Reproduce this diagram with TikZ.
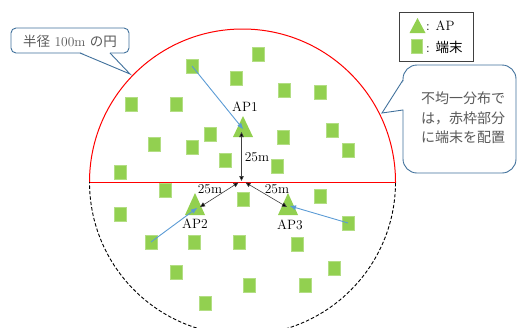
\documentclass[tikz,border=0pt]{standalone}
\usepackage{fontspec}
\newfontfamily\cjk{Noto Sans CJK JP}
\usetikzlibrary{arrows.meta}
\definecolor{tgreen}{HTML}{92D050}
\definecolor{cblue}{HTML}{41719C}
\definecolor{ablue}{HTML}{5B9BD5}
\definecolor{tgray}{HTML}{595959}
\tikzset{
  term/.style={rectangle, fill=tgreen, draw=tgreen!70!white, line width=0.4pt,
    minimum width=12pt, minimum height=14pt, inner sep=0pt},
  aptri/.style={fill=tgreen},
  dimarrow/.style={draw=black!75, line width=0.6pt,
    {Triangle[length=5pt,width=4.5pt,fill=black]}-{Triangle[length=5pt,width=4.5pt,fill=black]}},
  link/.style={draw=ablue, line width=0.9pt, -{Triangle[length=6pt,width=4.5pt]}},
  lbl/.style={font=\fontsize{13.5}{15}\selectfont, inner sep=0pt},
  calloutbox/.style={draw=cblue, line width=0.9pt, fill=white},
}
\begin{document}
\begin{tikzpicture}[x=1pt,y=-1pt]
\useasboundingbox (0,0) rectangle (518,327);
\clip (0,0) rectangle (518,327);
\coordinate (c) at (242.5,182);
% circle: red upper half, dashed lower half
\begin{scope}
  \clip (0,0) rectangle (518,182);
  \draw[red, line width=1pt] (c) circle[radius=153pt];
\end{scope}
\begin{scope}
  \clip (0,182) rectangle (518,340);
  \draw[black, line width=0.9pt, dash pattern=on 3.5pt off 2pt] (c) circle[radius=153pt];
\end{scope}
\coordinate (hl) at (89.5,182);
\coordinate (hr) at (395.5,182);
\draw[red, line width=1pt] (hl) -- (hr);

% terminals
\node[term] (t1) at (192,66) {};
\node[term] (t2) at (236,78) {};
\node[term] (t3) at (258,54) {};
\node[term] (t4) at (131,104) {};
\node[term] (t5) at (176,104) {};
\node[term] (t6) at (284,90) {};
\node[term] (t7) at (320,92) {};
\node[term] (t8) at (154,144) {};
\node[term] (t9) at (192,147) {};
\node[term] (t10) at (210,134) {};
\node[term] (t11) at (225,160) {};
\node[term] (t12) at (283,137) {};
\node[term] (t13) at (332,130) {};
\node[term] (t14) at (348,150) {};
\node[term] (t15) at (277,166) {};
\node[term] (t16) at (120,172) {};
\node[term] (t17) at (165,190) {};
\node[term] (t18) at (120,214) {};
\node[term] (t19) at (151,242) {};
\node[term] (t20) at (194,242) {};
\node[term] (t21) at (239,242) {};
\node[term] (t22) at (176,272) {};
\node[term] (t23) at (249,285) {};
\node[term] (t24) at (205,303) {};
\node[term] (t25) at (243,199) {};
\node[term] (t26) at (320,196) {};
\node[term] (t27) at (348,223) {};
\node[term] (t28) at (297,244) {};
\node[term] (t29) at (334,268) {};
\node[term] (t30) at (305,285) {};

% access points
\fill[aptri] (243,116) -- (253,137) -- (233,137) -- cycle;
\fill[aptri] (195,193) -- (205,215) -- (185,215) -- cycle;
\fill[aptri] (288,193) -- (298,215) -- (278,215) -- cycle;
\node[lbl] (l1) at (245,107) {AP1};
\node[lbl] (l2) at (195,224) {AP2};
\node[lbl] (l3) at (290,225) {AP3};

% distance arrows
\coordinate (j1) at (241.5,181);
\coordinate (j2) at (238.5,182.5);
\coordinate (j3) at (245.5,182.5);
\coordinate (a1) at (241.5,132);
\coordinate (a2) at (200,207);
\coordinate (a3) at (287,207);
\draw[dimarrow] (a1) -- (j1);
\draw[dimarrow] (j2) -- (a2);
\draw[dimarrow] (j3) -- (a3);
\node[lbl] (d1) at (257,157) {25m};
\node[lbl] (d2) at (210,189) {25m};
\node[lbl] (d3) at (277,189) {25m};

% association links
\coordinate (b1) at (243,129);
\coordinate (b2) at (197,208);
\coordinate (b3) at (290,206);
\draw[link] (t1.center) -- (b1);
\draw[link] (t19.center) -- (b2);
\draw[link] (t27.center) -- (b3);

% callout 1
\node[calloutbox, rounded corners=5pt, minimum width=118pt, minimum height=25pt,
  inner sep=0pt] (co1) at (70,40.5) {};
\coordinate (p1a) at (80,53);
\coordinate (p1t) at (130,74);
\coordinate (p1b) at (110,53);
\fill[white] (80.3,52.2) -- (p1t) -- (109.7,52.2) -- cycle;
\draw[cblue, line width=0.9pt, line join=miter] (p1a) -- (p1t) -- (p1b);
\node[font=\fontsize{13.5}{15}\selectfont, text=tgray, inner sep=0pt] (tx1) at (70,41.5)
  {{\cjk 半径} 100m {\cjk の円}};

% callout 2
\node[calloutbox, rounded corners=14pt, minimum width=113pt, minimum height=108pt,
  inner sep=0pt] (co2) at (459.5,119) {};
\coordinate (p2a) at (403,80);
\coordinate (p2t) at (382,113);
\coordinate (p2b) at (403,110);
\fill[white] (404,80.5) -- (p2t) -- (404,109.5) -- cycle;
\draw[cblue, line width=0.9pt, line join=miter] (p2a) -- (p2t) -- (p2b);
\node[font=\cjk\fontsize{14}{19.5}\selectfont, text=tgray, align=center, inner sep=0pt]
  (tx2) at (463,118) {不均一分布で\\は，赤枠部分\\に端末を配置};

% legend
\node[draw=black!75, line width=0.8pt, minimum width=74pt, minimum height=49pt,
  inner sep=0pt] (leg) at (436,36.5) {};
\fill[aptri] (417.5,18) -- (425.5,33) -- (409.5,33) -- cycle;
\node[term, minimum width=11pt] (legt) at (416.5,46) {};
\node[lbl, anchor=west] (lga) at (426,26) {: AP};
\node[lbl, anchor=west] (lgb) at (426,47) {: {\cjk 端末}};
\end{tikzpicture}
\end{document}
